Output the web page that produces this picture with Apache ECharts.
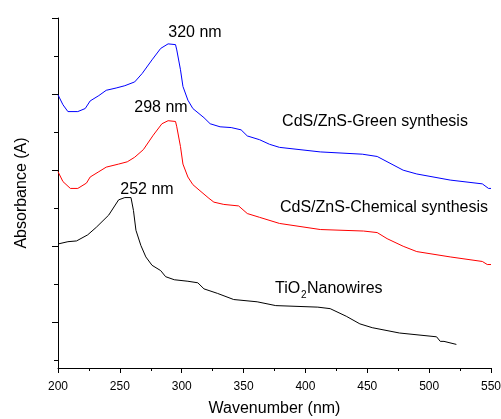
<!DOCTYPE html>
<html>
<head>
<meta charset="utf-8">
<script src="https://cdn.jsdelivr.net/npm/echarts@6/dist/echarts.min.js"></script>
<style>
  html, body { margin: 0; padding: 0; background: #fff; }
  #chart { width: 501px; height: 419px; }
</style>
</head>
<body>
<div id="chart"></div>
<script>
// CdS/ZnS green synthesis (blue)
const greenWl = [200, 204, 208, 216, 222, 226, 233, 239, 247, 254, 262, 268, 276, 283, 289, 295, 296, 299, 301, 305, 309, 318, 323, 331, 340, 348, 353, 363, 371, 379, 412, 446, 458, 479, 490, 517, 543, 548, 550];
const greenAbs = [3.99, 3.86, 3.77, 3.77, 3.81, 3.91, 3.98, 4.05, 4.08, 4.11, 4.16, 4.27, 4.45, 4.60, 4.66, 4.65, 4.58, 4.32, 4.10, 3.92, 3.81, 3.69, 3.61, 3.57, 3.56, 3.53, 3.45, 3.40, 3.34, 3.30, 3.24, 3.21, 3.18, 3.00, 2.95, 2.87, 2.82, 2.76, 2.76];

// CdS/ZnS chemical synthesis (red)
const chemWl = [200, 204, 210, 216, 223, 226, 233, 239, 249, 256, 262, 269, 277, 284, 289, 295, 296, 299, 301, 305, 309, 314, 322, 326, 334, 346, 353, 363, 379, 412, 447, 458, 466, 479, 490, 517, 543, 547, 550];
const chemAbs = [2.98, 2.85, 2.76, 2.76, 2.83, 2.91, 2.98, 3.04, 3.08, 3.11, 3.17, 3.27, 3.46, 3.61, 3.65, 3.64, 3.57, 3.31, 3.08, 2.91, 2.81, 2.74, 2.63, 2.58, 2.55, 2.53, 2.43, 2.38, 2.30, 2.22, 2.20, 2.18, 2.10, 2.00, 1.93, 1.86, 1.80, 1.76, 1.76];

// TiO2 nanowires (black)
const tioWl = [200, 208, 215, 224, 231, 241, 249, 254, 259, 261, 263, 267, 271, 276, 283, 287, 294, 305, 313, 318, 329, 342, 361, 376, 410, 420, 433, 444, 454, 476, 506, 509, 512, 522];
const tioAbs = [2.03, 2.06, 2.07, 2.15, 2.25, 2.41, 2.61, 2.64, 2.64, 2.47, 2.21, 2.01, 1.86, 1.75, 1.68, 1.60, 1.56, 1.54, 1.52, 1.44, 1.38, 1.30, 1.27, 1.22, 1.20, 1.18, 1.08, 0.98, 0.93, 0.86, 0.81, 0.75, 0.75, 0.71];

const majorTicks = [1, 2, 3, 4, 5];
const minorTicks = [0.5, 1.5, 2.5, 3.5, 4.5];

const font = 'Arial, "Liberation Sans", sans-serif';

function zip(xs, ys) {
  return xs.map((x, i) => [x, ys[i]]);
}

function lineSeries(name, xs, ys, color) {
  return {
    name,
    type: 'line',
    data: zip(xs, ys),
    symbol: 'none',
    lineStyle: { color, width: 1 },
    itemStyle: { color },
  };
}

function label(text, x, y, align) {
  return {
    type: 'text',
    x, y,
    style: {
      text,
      fill: '#000',
      font: '16px ' + font,
      textAlign: align || 'center',
      textVerticalAlign: 'middle',
    },
  };
}

const chart = echarts.init(document.getElementById('chart'));
chart.setOption({
  animation: false,
  backgroundColor: '#fff',
  grid: { left: 58, right: 10, top: 18, bottom: 51, outerBoundsMode: 'none' },
  xAxis: {
    type: 'value',
    min: 200,
    max: 550,
    interval: 50,
    name: 'Wavenumber (nm)',
    nameLocation: 'middle',
    nameGap: 33,
    nameTextStyle: { fontSize: 16, fontFamily: font, color: '#000' },
    axisLine: { lineStyle: { color: '#000', width: 1 } },
    axisTick: { length: 5, lineStyle: { color: '#000' } },
    minorTick: { show: true, splitNumber: 2, length: 3, lineStyle: { color: '#000' } },
    axisLabel: { fontSize: 12, fontFamily: font, color: '#000', margin: 13 },
    splitLine: { show: false },
  },
  yAxis: [
    {
      type: 'value',
      min: 0.4,
      max: 5,
      name: 'Absorbance (A)',
      nameLocation: 'middle',
      nameGap: 28,
      nameTextStyle: { fontSize: 16, fontFamily: font, color: '#000' },
      axisLine: { show: true, lineStyle: { color: '#000', width: 1 } },
      axisTick: { show: true, length: 6, customValues: majorTicks, lineStyle: { color: '#000' } },
      axisLabel: { show: false },
      splitLine: { show: false },
    },
    {
      type: 'value',
      min: 0.4,
      max: 5,
      position: 'left',
      axisLine: { show: false },
      axisTick: { show: true, length: 4, customValues: minorTicks, lineStyle: { color: '#000' } },
      axisLabel: { show: false },
      splitLine: { show: false },
    },
  ],
  series: [
    lineSeries('CdS/ZnS-Green synthesis', greenWl, greenAbs, '#0000ff'),
    lineSeries('CdS/ZnS-Chemical synthesis', chemWl, chemAbs, '#ff0000'),
    lineSeries('TiO2 Nanowires', tioWl, tioAbs, '#000000'),
  ],
  graphic: [
    label('320 nm', 195, 33),
    label('298 nm', 161, 108),
    label('252 nm', 147, 190),
    label('CdS/ZnS-Green synthesis', 375, 122),
    label('CdS/ZnS-Chemical synthesis', 384, 208),
    label('TiO', 275, 289, 'left'),
    {
      type: 'text',
      x: 301, y: 295,
      style: { text: '2', fill: '#000', font: '10px ' + font, textAlign: 'left', textVerticalAlign: 'middle' },
    },
    label('Nanowires', 307, 289, 'left'),
  ],
});
</script>
</body>
</html>
